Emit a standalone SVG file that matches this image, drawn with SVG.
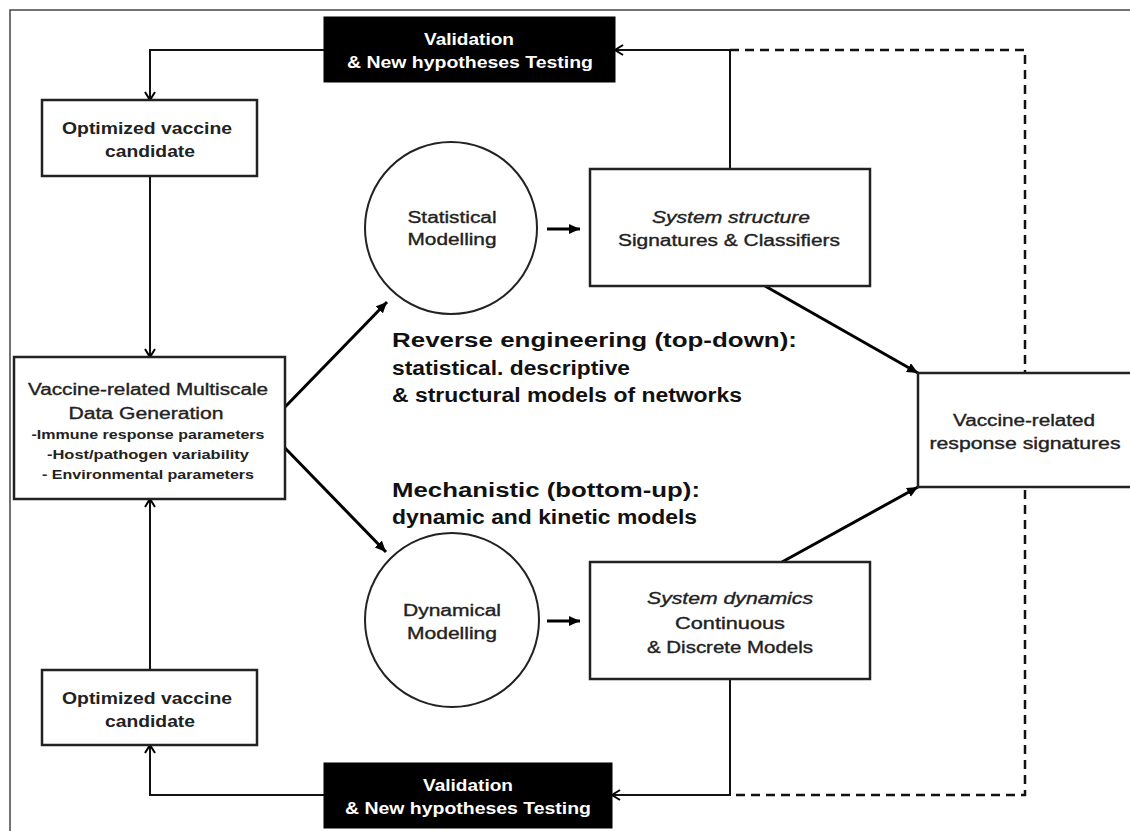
<svg xmlns="http://www.w3.org/2000/svg" width="1130" height="831" viewBox="0 0 1130 831">
<defs>
<marker id="open" markerUnits="userSpaceOnUse" markerWidth="16" markerHeight="16" refX="10" refY="6" orient="auto">
<path d="M2,1 L10,6 L2,11" fill="none" stroke="#000" stroke-width="2"/>
</marker>
<marker id="fill" markerUnits="userSpaceOnUse" markerWidth="14" markerHeight="12" refX="11" refY="5" orient="auto">
<path d="M0,0 L11,5 L0,10 Z" fill="#000"/>
</marker>
<style>
.box{fill:#fff;stroke:#222;stroke-width:2.5}
.blk{fill:#000;stroke:#000}
.ln{fill:none;stroke:#111;stroke-width:2}
.thick{fill:none;stroke:#000;stroke-width:3}
.dash{fill:none;stroke:#111;stroke-width:2.5;stroke-dasharray:9,6}
text{font-family:"Liberation Sans",Arial,sans-serif;text-anchor:middle;fill:#222}
.b{font-weight:bold}
.w{fill:#fff;font-weight:bold;font-size:16px}
.m{font-size:16px}
.r{stroke:#222;stroke-width:0.35}
.s{font-size:13.5px;font-weight:bold}
.big{font-weight:bold;font-size:20px;text-anchor:start;fill:#111}
</style>
</defs>
<rect width="1130" height="831" fill="#fff"/>
<path d="M10,831 V10 H1130" fill="none" stroke="#444" stroke-width="1.5"/>

<g id="connectors">
<path class="dash" d="M730,50 H1025 V795 H730"/>
<path class="ln" d="M324,50 H150 V100" marker-end="url(#open)"/>
<path class="ln" d="M150,176 V357" marker-end="url(#open)"/>
<path class="ln" d="M150,670 V499" marker-end="url(#open)"/>
<path class="ln" d="M324,795 H150 V745" marker-end="url(#open)"/>
<path class="ln" d="M730,169 V50 H615" marker-end="url(#open)"/>
<path class="ln" d="M730,679 V795 H612" marker-end="url(#open)"/>
<path class="thick" d="M285,407 L387,302" marker-end="url(#fill)"/>
<path class="thick" d="M285,448 L386,552" marker-end="url(#fill)"/>
<path class="thick" d="M547,229 L580,229" marker-end="url(#fill)"/>
<path class="thick" d="M547,621 L580,621" marker-end="url(#fill)"/>
<path class="thick" d="M765,286 L918,373" marker-end="url(#fill)"/>
<path class="thick" d="M782,562 L918,487" marker-end="url(#fill)"/>
</g>

<g id="validation-top">
<rect class="blk" x="324" y="17" width="291" height="65"/>
<text class="w" x="469" y="45" textLength="90" lengthAdjust="spacingAndGlyphs">Validation</text>
<text class="w" x="470" y="68" textLength="246" lengthAdjust="spacingAndGlyphs">&amp; New hypotheses Testing</text>
</g>

<g id="optimized-top">
<rect class="box" x="42" y="100" width="215" height="76"/>
<text class="m b" x="147" y="134" textLength="170" lengthAdjust="spacingAndGlyphs">Optimized vaccine</text>
<text class="m b" x="150" y="157" textLength="90" lengthAdjust="spacingAndGlyphs">candidate</text>
</g>

<g id="data-generation">
<rect class="box" x="14" y="357" width="271" height="142"/>
<text class="m r" x="148" y="395" textLength="240" lengthAdjust="spacingAndGlyphs">Vaccine-related Multiscale</text>
<text class="m r" x="146" y="419" textLength="155" lengthAdjust="spacingAndGlyphs">Data Generation</text>
<text class="s" x="148" y="439" textLength="233" lengthAdjust="spacingAndGlyphs">-Immune response parameters</text>
<text class="s" x="148" y="459" textLength="202" lengthAdjust="spacingAndGlyphs">-Host/pathogen variability</text>
<text class="s" x="148" y="479" textLength="212" lengthAdjust="spacingAndGlyphs">- Environmental parameters</text>
</g>

<g id="optimized-bottom">
<rect class="box" x="42" y="670" width="215" height="75"/>
<text class="m b" x="147" y="704" textLength="170" lengthAdjust="spacingAndGlyphs">Optimized vaccine</text>
<text class="m b" x="150" y="727" textLength="90" lengthAdjust="spacingAndGlyphs">candidate</text>
</g>

<g id="validation-bottom">
<rect class="blk" x="324" y="763" width="288" height="65"/>
<text class="w" x="468" y="791" textLength="90" lengthAdjust="spacingAndGlyphs">Validation</text>
<text class="w" x="468" y="814" textLength="246" lengthAdjust="spacingAndGlyphs">&amp; New hypotheses Testing</text>
</g>

<g id="statistical-modelling">
<circle cx="451" cy="228" r="86" fill="#fff" stroke="#222" stroke-width="2"/>
<text class="m r" x="452" y="223" textLength="89" lengthAdjust="spacingAndGlyphs">Statistical</text>
<text class="m r" x="452" y="245" textLength="89" lengthAdjust="spacingAndGlyphs">Modelling</text>
</g>

<g id="dynamical-modelling">
<circle cx="452" cy="620" r="87" fill="#fff" stroke="#222" stroke-width="2"/>
<text class="m r" x="452" y="616" textLength="98" lengthAdjust="spacingAndGlyphs">Dynamical</text>
<text class="m r" x="452" y="639" textLength="90" lengthAdjust="spacingAndGlyphs">Modelling</text>
</g>

<g id="system-structure">
<rect class="box" x="590" y="169" width="280" height="117"/>
<text class="m r" x="731" y="223" font-style="italic" textLength="158" lengthAdjust="spacingAndGlyphs">System structure</text>
<text class="m r" x="729" y="246" textLength="222" lengthAdjust="spacingAndGlyphs">Signatures &amp; Classifiers</text>
</g>

<g id="system-dynamics">
<rect class="box" x="590" y="562" width="280" height="117"/>
<text class="m r" x="730" y="604" font-style="italic" textLength="166" lengthAdjust="spacingAndGlyphs">System dynamics</text>
<text class="m r" x="730" y="629" textLength="110" lengthAdjust="spacingAndGlyphs">Continuous</text>
<text class="m r" x="730" y="653" textLength="166" lengthAdjust="spacingAndGlyphs">&amp; Discrete Models</text>
</g>

<g id="response-signatures">
<rect class="box" x="918" y="373" width="220" height="114"/>
<text class="m r" x="1024" y="426" textLength="142" lengthAdjust="spacingAndGlyphs">Vaccine-related</text>
<text class="m r" x="1025" y="449" textLength="191" lengthAdjust="spacingAndGlyphs">response signatures</text>
</g>

<g id="labels">
<text class="big" x="392" y="347" font-size="21" textLength="405" lengthAdjust="spacingAndGlyphs">Reverse engineering (top-down):</text>
<text class="big" x="392" y="375" textLength="238" lengthAdjust="spacingAndGlyphs">statistical. descriptive</text>
<text class="big" x="392" y="402" textLength="350" lengthAdjust="spacingAndGlyphs">&amp; structural models of networks</text>
<text class="big" x="392" y="497" textLength="308" lengthAdjust="spacingAndGlyphs">Mechanistic (bottom-up):</text>
<text class="big" x="392" y="524" textLength="305" lengthAdjust="spacingAndGlyphs">dynamic and kinetic models</text>
</g>
</svg>
